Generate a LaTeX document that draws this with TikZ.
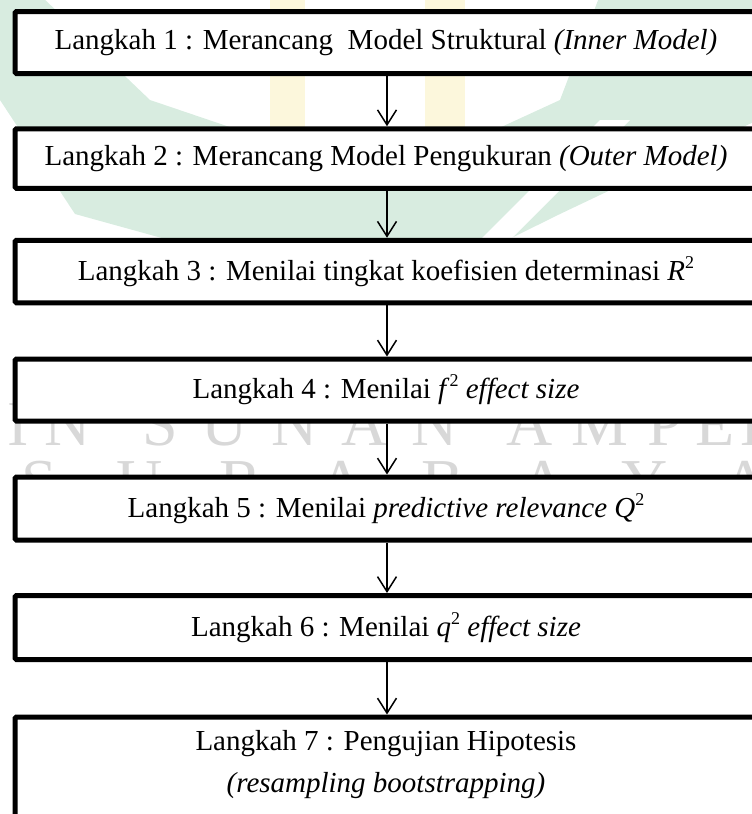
\documentclass[tikz,border=0pt]{standalone}
\usepackage{fontspec}
\setmainfont{Liberation Serif}
\usetikzlibrary{arrows.meta}
\definecolor{wmgreen}{HTML}{D8ECE0}
\definecolor{wmyellow}{HTML}{FCF7DC}
\definecolor{wmgray}{HTML}{D8D8D8}
\tikzset{
  stepbox/.style={draw=black, line width=5pt, fill=white, rounded corners=1.5pt,
    minimum width=742pt, inner sep=0pt, align=center,
    font=\fontsize{29}{42}\selectfont},
  steptext/.style={font=\fontsize{29}{42}\selectfont, align=center},
  flow/.style={line width=1.5pt, -{Straight Barb[length=15pt,width=19pt,line width=1.5pt]}},
  wmletter/.style={text=wmgray, font=\fontsize{64}{64}\selectfont, inner sep=0pt, anchor=base}
}
\newcommand{\sqr}{\raisebox{0.42em}{\fontsize{18}{18}\selectfont 2}}
\begin{document}
\begin{tikzpicture}[x=1pt,y=-1pt]
\useasboundingbox (0,0) rectangle (752,814);
% faint emblem behind the chart
\fill[wmgreen] (-70,-5) -- (40,-5) -- (150,100) -- (386,180) -- (560,100) -- (600,-5)
  -- (800,-5) -- (800,100) -- (560,214) -- (386,300) -- (75,214) -- (0,100) -- cycle;
\fill[white] (600,120) -- (630,120) -- (470,280) -- (440,280) -- cycle;
\fill[wmyellow] (270,-5) rectangle (305,128);
\fill[wmyellow] (425,-5) rectangle (465,128);
% faint lettering behind the chart
\foreach \x/\c [count=\i] in {-25/U,18/I,68/N,160/S,225/U,295/N,365/A,435/N,530/A,600/M,665/P,715/E,760/L}
  \node[wmletter] (wa\i) at (\x,445) {\c};
\foreach \x/\c [count=\i] in {39/S,140/U,241/R,342/A,443/B,544/A,645/Y,746/A}
  \node[wmletter] (wb\i) at (\x,503) {\c};
% process steps
\node[stepbox, minimum height=62pt] (s1) at (386,42.5)
  {Langkah 1 : Merancang\ \ Model Struktural \textit{(Inner Model)}};
\node[stepbox, minimum height=59.5pt] (s2) at (386,158.5)
  {Langkah 2 : Merancang Model Pengukuran \textit{(Outer Model)}};
\node[stepbox, minimum height=62.5pt] (s3) at (386,271.5)
  {Langkah 3 : Menilai tingkat koefisien determinasi \textit{R}\sqr};
\node[stepbox, minimum height=62pt] (s4) at (386,390)
  {Langkah 4 : Menilai \textit{f}\sqr{} \textit{effect size}};
\node[stepbox, minimum height=63pt] (s5) at (386,508.5)
  {Langkah 5 : Menilai \textit{predictive relevance Q}\sqr};
\node[stepbox, minimum height=64pt] (s6) at (386,627.5)
  {Langkah 6 : Menilai \textit{q}\sqr{} \textit{effect size}};
\node[stepbox, minimum height=150pt, anchor=north] (s7) at (386,714.5) {};
\node[steptext, anchor=north] (t7) at (386,727)
  {Langkah 7 : Pengujian Hipotesis\\ \textit{(resampling bootstrapping)}};
% connectors
\draw[flow] (s1.south -| 387,0) -- (s2.north -| 387,0);
\draw[flow] (s2.south -| 387,0) -- (s3.north -| 387,0);
\draw[flow] (s3.south -| 387,0) -- (s4.north -| 387,0);
\draw[flow] (s4.south -| 387,0) -- (s5.north -| 387,0);
\draw[flow] (s5.south -| 387,0) -- (s6.north -| 387,0);
\draw[flow] (s6.south -| 387,0) -- (s7.north -| 387,0);
\end{tikzpicture}
\end{document}
